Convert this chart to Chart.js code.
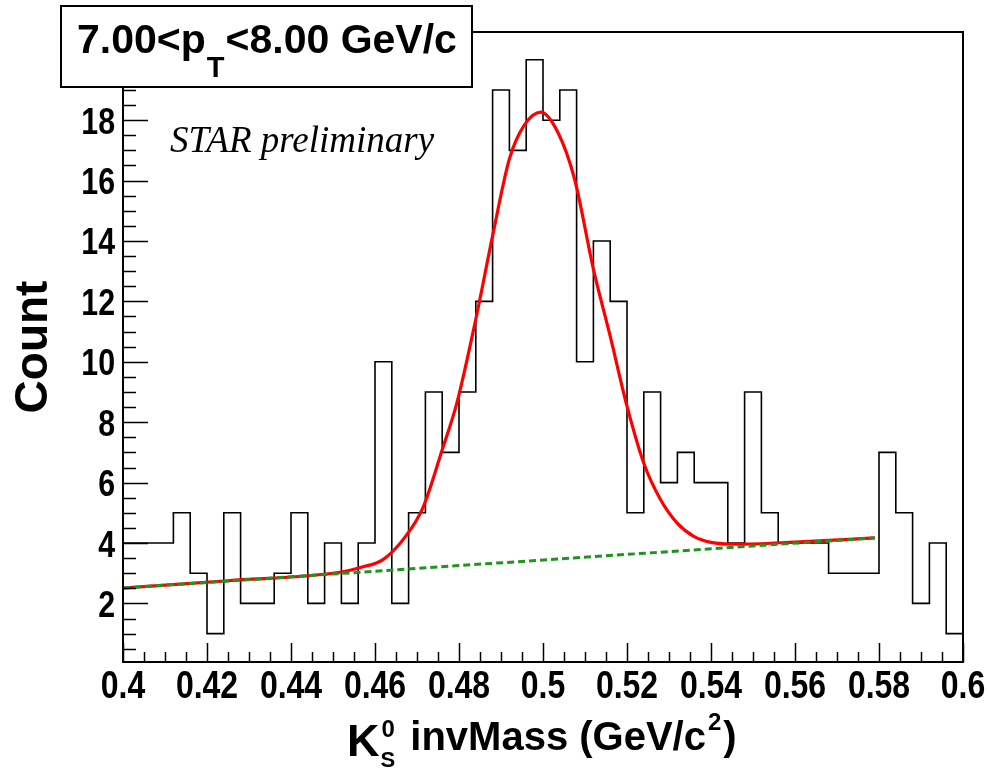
<!DOCTYPE html>
<html>
<head>
<meta charset="utf-8">
<title>K0S invMass 7.00 &lt; pT &lt; 8.00 GeV/c</title>
<script src="https://cdn.jsdelivr.net/npm/chart.js@4.4.1/dist/chart.umd.min.js"></script>
<style>
    html, body { margin: 0; padding: 0; background: #fff; }
    #massChart { display: block; }
</style>
</head>
<body>
<canvas id="massChart" width="988" height="769"></canvas>
<script>
// histogram bins (low edges, GeV/c^2) and counts
const binLowEdge = [
    0.400, 0.404, 0.408, 0.412, 0.416, 0.420, 0.424, 0.428, 0.432, 0.436,
    0.440, 0.444, 0.448, 0.452, 0.456, 0.460, 0.464, 0.468, 0.472, 0.476,
    0.480, 0.484, 0.488, 0.492, 0.496, 0.500, 0.504, 0.508, 0.512, 0.516,
    0.520, 0.524, 0.528, 0.532, 0.536, 0.540, 0.544, 0.548, 0.552, 0.556,
    0.560, 0.564, 0.568, 0.572, 0.576, 0.580, 0.584, 0.588, 0.592, 0.596
];
const binUpperEdge = 0.600;
const binCounts = [
    4, 4, 4, 5, 3, 1, 5, 2, 2, 3,
    5, 2, 4, 2, 4, 10, 2, 5, 9, 7,
    9, 12, 19, 17, 20, 18, 19, 10, 14, 12,
    5, 9, 6, 7, 6, 6, 4, 9, 5, 4,
    4, 4, 3, 3, 3, 7, 5, 2, 4, 1
];

// fit curve (gaus + pol1)
const fitMass = [
    0.400, 0.425, 0.452, 0.4565, 0.462, 0.4675, 0.4715, 0.476, 0.4795, 0.484,
    0.488, 0.492, 0.4955, 0.4995, 0.5035, 0.5075, 0.512, 0.516, 0.520, 0.524,
    0.528, 0.532, 0.536, 0.540, 0.546, 0.560, 0.579
];
const fitCount = [
    2.51, 2.75, 3.04, 3.19, 3.46, 4.26, 5.20, 7.09, 8.64, 11.41,
    14.17, 16.72, 17.83, 18.27, 17.61, 16.06, 13.07, 10.85, 8.53, 6.64,
    5.43, 4.65, 4.21, 4.02, 3.96, 4.03, 4.17
];

// linear background
const bkgMass = [0.400, 0.579];
const bkgCount = [2.51, 4.17];

// tick labels
const xTickValues = [0.4, 0.42, 0.44, 0.46, 0.48, 0.5, 0.52, 0.54, 0.56, 0.58, 0.6];
const yTickValues = [2, 4, 6, 8, 10, 12, 14, 16, 18, 20];

const SANS = '"Liberation Sans", Arial, Helvetica, sans-serif';
const SERIF = '"Liberation Serif", "Times New Roman", serif';
const LABEL_SQUEEZE = 0.82; // ROOT labels come out condensed

// condensed bold text, no narrow font is installed
function squeezedText(ctx, text, x, y, size, align) {
    ctx.save();
    ctx.font = `bold ${size}px ${SANS}`;
    ctx.textAlign = align;
    ctx.textBaseline = 'alphabetic';
    ctx.scale(LABEL_SQUEEZE, 1);
    ctx.fillText(text, x / LABEL_SQUEEZE, y);
    ctx.restore();
}

// ROOT-like frame: inward ticks, box, pave text and latex axis title
const rootFrame = {
    id: 'rootFrame',
    afterDatasetsDraw(chart) {
        const { ctx, chartArea: a, scales: { x, y } } = chart;
        ctx.save();
        ctx.strokeStyle = '#000';
        ctx.lineWidth = 1.5;
        ctx.beginPath();
        // x: major every 0.02, minor every 0.005
        for (let k = 0; k <= 40; k++) {
            const px = Math.round(x.getPixelForValue(0.4 + k * 0.005)) + 0.5;
            const len = k % 4 === 0 ? 19 : 10;
            ctx.moveTo(px, a.bottom);
            ctx.lineTo(px, a.bottom - len);
        }
        // y: major every 2, minor every 0.5
        for (let k = 1; k * 0.5 <= y.max; k++) {
            const py = Math.round(y.getPixelForValue(k * 0.5)) + 0.5;
            const len = k % 4 === 0 ? 25 : 13;
            ctx.moveTo(a.left, py);
            ctx.lineTo(a.left + len, py);
        }
        ctx.stroke();
        ctx.lineWidth = 2;
        ctx.strokeRect(a.left, a.top, a.right - a.left, a.bottom - a.top);
        ctx.restore();

        // tick labels from the scales' own ticks
        ctx.fillStyle = '#000';
        x.ticks.forEach(t => {
            squeezedText(ctx, String(t.value), x.getPixelForValue(t.value), 698, 39, 'center');
        });
        y.ticks.forEach(t => {
            squeezedText(ctx, String(t.value), a.left - 8, y.getPixelForValue(t.value) + 13.5, 37, 'right');
        });
    },
    afterDraw(chart) {
        const ctx = chart.ctx;
        ctx.save();
        ctx.textBaseline = 'alphabetic';
        ctx.textAlign = 'left';

        // pT bin label box
        ctx.fillStyle = '#fff';
        ctx.fillRect(61, 6, 411, 81);
        ctx.strokeStyle = '#000';
        ctx.lineWidth = 2;
        ctx.strokeRect(61, 6, 411, 81);
        ctx.fillStyle = '#000';
        let cx = 77;
        ctx.font = `bold 41px ${SANS}`;
        ctx.fillText('7.00<p', cx, 53);
        cx += ctx.measureText('7.00<p').width + 1;
        ctx.font = `bold 29px ${SANS}`;
        ctx.fillText('T', cx, 77);
        cx += ctx.measureText('T').width + 1;
        ctx.font = `bold 41px ${SANS}`;
        ctx.fillText('<8.00 GeV/c', cx, 53);

        // STAR preliminary
        ctx.font = `italic 37px ${SERIF}`;
        ctx.fillText('STAR preliminary', 170, 152);

        // x axis title: K^0_S invMass (GeV/c^2)
        cx = 347;
        ctx.font = `bold 45px ${SANS}`;
        ctx.fillText('K', cx, 756);
        cx += ctx.measureText('K').width + 1;
        ctx.font = `bold 22px ${SANS}`;
        ctx.fillText('S', cx, 767);
        const wS = ctx.measureText('S').width;
        ctx.font = `bold 24px ${SANS}`;
        ctx.fillText('0', cx + 1, 737);
        cx += Math.max(wS, ctx.measureText('0').width) + 4;
        ctx.font = `bold 40px ${SANS}`;
        ctx.fillText(' invMass (GeV/c', cx, 750);
        cx += ctx.measureText(' invMass (GeV/c').width + 2;
        ctx.font = `bold 24px ${SANS}`;
        ctx.fillText('2', cx, 730);
        cx += ctx.measureText('2').width + 2;
        ctx.font = `bold 40px ${SANS}`;
        ctx.fillText(')', cx, 750);
        ctx.restore();
    }
};

class InvMassChart {
    constructor(canvasId) {
        this.canvas = document.getElementById(canvasId);
        this.init();
    }

    init() {
        Chart.defaults.color = '#000';
        this.chart = new Chart(this.canvas, {
            type: 'line',
            data: { datasets: this.buildDatasets() },
            options: this.buildOptions(),
            plugins: [rootFrame]
        });
    }

    buildDatasets() {
        const hist = binCounts.map((c, i) => ({ x: binLowEdge[i], y: c }));
        hist.push({ x: binUpperEdge, y: binCounts[binCounts.length - 1] });

        return [{
            label: 'Background',
            data: bkgMass.map((m, i) => ({ x: m, y: bkgCount[i] })),
            borderColor: '#1f951f',
            borderWidth: 3,
            borderDash: [7, 4],
            pointRadius: 0,
            order: 0
        }, {
            label: 'Fit',
            data: fitMass.map((m, i) => ({ x: m, y: fitCount[i] })),
            borderColor: '#ff0000',
            borderWidth: 3.2,
            cubicInterpolationMode: 'monotone',
            pointRadius: 0,
            order: 1
        }, {
            label: 'Counts',
            data: hist,
            borderColor: '#000',
            borderWidth: 1.6,
            stepped: 'before',
            pointRadius: 0,
            order: 2
        }];
    }

    buildOptions() {
        return {
            responsive: false,
            animation: false,
            devicePixelRatio: 1,
            layout: { padding: { left: 0, right: 25, top: 32, bottom: 0 } },
            plugins: {
                legend: { display: false },
                tooltip: { enabled: false }
            },
            scales: {
                x: {
                    type: 'linear',
                    min: 0.4,
                    max: 0.6,
                    grid: { display: false, drawTicks: false },
                    border: { display: false },
                    afterBuildTicks: scale => {
                        scale.ticks = xTickValues.map(v => ({ value: v }));
                    },
                    afterFit: scale => { scale.height = 107; },
                    ticks: { display: false }
                },
                y: {
                    type: 'linear',
                    min: 0.06,
                    max: 20.92,
                    grid: { display: false, drawTicks: false },
                    border: { display: false },
                    afterBuildTicks: scale => {
                        scale.ticks = yTickValues.map(v => ({ value: v }));
                    },
                    afterFit: scale => { scale.width = 123; },
                    ticks: { display: false },
                    title: {
                        display: true,
                        text: 'Count',
                        color: '#000',
                        font: { family: SANS, size: 46, weight: 'bold' },
                        padding: { top: 7, bottom: 0 }
                    }
                }
            }
        };
    }
}

document.addEventListener('DOMContentLoaded', () => new InvMassChart('massChart'));
</script>
</body>
</html>
